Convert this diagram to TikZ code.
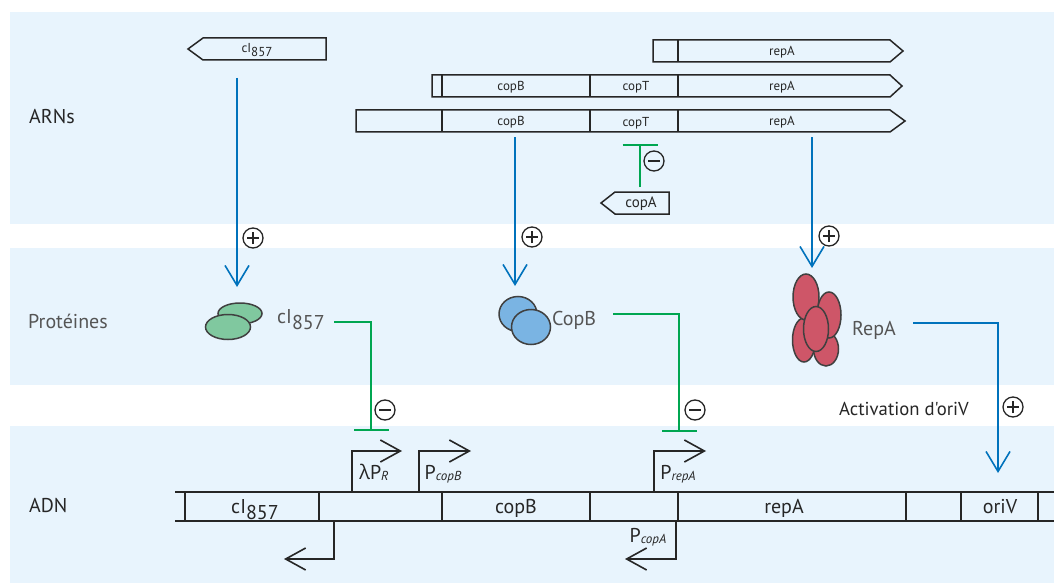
\documentclass[tikz,border=0pt]{standalone}
\usepackage{fontspec}
\setmainfont{PT Sans}
\newfontfamily\plainfont{PT Sans}
\newfontfamily\grkfont{Open Sans}
\usetikzlibrary{arrows.meta}

\definecolor{bandfill}{HTML}{E8F4FD}
\definecolor{actblue}{HTML}{0072BC}
\definecolor{inhgreen}{HTML}{00A651}
\definecolor{ink}{HTML}{262626}
\definecolor{greyink}{HTML}{555555}
\definecolor{outline}{HTML}{404040}
\definecolor{cIfill}{HTML}{80C89F}
\definecolor{copBfill}{HTML}{7AB4E3}
\definecolor{repAfill}{HTML}{CE5668}

% gene name with lowered allele number
\newcommand\cIsub{cI\raisebox{-0.3em}{857}}
% promoter name with small italic index
\newcommand\promlab[2]{#1\raisebox{-0.08em}{\fontsize{13}{13}\selectfont\itshape #2}}

\tikzset{
  band/.style={fill=bandfill},
  rnabox/.style={draw=ink,line width=1.5pt,line join=miter},
  dna/.style={draw=ink,line width=2pt},
  act/.style={draw=actblue,line width=1.6pt,
    -{Straight Barb[length=20pt,width=24pt,line width=1.6pt]}},
  inh/.style={draw=inhgreen,line width=2pt,-{Bar[width=35pt,line width=2pt]}},
  prom/.style={draw=ink,line width=1.6pt,line join=miter,
    -{Straight Barb[length=20pt,width=22pt,line width=1.6pt]}},
  prot/.style={draw=outline,line width=1.5pt},
  lab/.style={font=\fontsize{20}{24}\selectfont,inner sep=0pt,text=ink},
  plab/.style={font=\fontsize{20}{24}\selectfont,inner sep=0pt,text=greyink},
  rnalab/.style={font=\fontsize{13}{15}\selectfont,inner sep=0pt,text=ink,anchor=base},
  sym/.style={circle,draw=ink,line width=1.3pt,minimum size=20pt,inner sep=0pt},
  plussym/.style={sym,path picture={
      \draw[ink,line width=1.3pt] ([xshift=-6pt]path picture bounding box.center) -- ([xshift=6pt]path picture bounding box.center);
      \draw[ink,line width=1.3pt] ([yshift=-6pt]path picture bounding box.center) -- ([yshift=6pt]path picture bounding box.center);}},
  minussym/.style={sym,path picture={
      \draw[ink,line width=1.6pt] ([xshift=-6pt]path picture bounding box.center) -- ([xshift=6pt]path picture bounding box.center);}},
}

\begin{document}
\begin{tikzpicture}[x=1pt,y=-1pt]
\fill[white] (0,0) rectangle (1054,583);
\useasboundingbox (0,0) rectangle (1054,583);

% three layers
\fill[band] (10,12) rectangle (1054,224);
\fill[band] (10,248) rectangle (1054,385);
\fill[band] (10,426) rectangle (1054,583);

\node[lab,anchor=base west] (lARN) at (29,124) {ARNs};
\node[plab,anchor=base west] (lProt) at (28,328) {Protéines};
\node[lab,anchor=base west] (lADN) at (29,512) {ADN};

% ---------- RNAs ----------
% cI857 transcript (leftward)
\draw[rnabox] (326,38) -- (203,38) -- (188,49) -- (203,60) -- (326,60) -- cycle;
\node[rnalab] (rcI) at (257,53) {\cIsub};

% repA transcript
\draw[rnabox] (653,40) -- (890,40) -- (903,51) -- (890,62) -- (653,62) -- cycle;
\draw[rnabox] (678,40) -- (678,62);
\node[rnalab] (r1A) at (782,55.5) {repA};

% copB-copT-repA transcript (short leader)
\draw[rnabox] (432,75) -- (890,75) -- (902,86) -- (890,97) -- (432,97) -- cycle;
\foreach \x in {442,590,678} \draw[rnabox] (\x,75) -- (\x,97);
\node[rnalab] (r2B) at (511,90.5) {copB};
\node[rnalab] (r2T) at (636,90.5) {copT};
\node[rnalab] (r2A) at (782,90.5) {repA};

% copB-copT-repA transcript (long leader)
\draw[rnabox] (356,110) -- (890,110) -- (905,121) -- (890,132) -- (356,132) -- cycle;
\foreach \x in {442,590,678} \draw[rnabox] (\x,110) -- (\x,132);
\node[rnalab] (r3B) at (511,125) {copB};
\node[rnalab] (r3T) at (636,127) {copT};
\node[rnalab] (r3A) at (782,125.5) {repA};

% antisense copA
\draw[rnabox] (669,192) -- (615,192) -- (601,203) -- (615,214) -- (669,214) -- cycle;
\node[rnalab,font=\fontsize{15}{17}\selectfont] (rcopA) at (641,207.5) {copA};

% ---------- proteins ----------
\draw[prot,fill=cIfill] (240,313.5) ellipse [x radius=22,y radius=10.5];
\draw[prot,fill=cIfill] (228,327) ellipse [x radius=22.5,y radius=12.5];
\node[plab,anchor=base west] (pcI) at (277,323) {\cIsub};

\draw[prot,fill=copBfill] (518,314) ellipse [x radius=19,y radius=17.5];
\draw[prot,fill=copBfill] (531,327) ellipse [x radius=19.5,y radius=17.5];
\node[plab,anchor=base west] (pcopB) at (552,325) {CopB};

\draw[prot,fill=repAfill] (804,340) ellipse [x radius=11.5,y radius=22];
\draw[prot,fill=repAfill] (826,349) ellipse [x radius=12.5,y radius=17];
\draw[prot,fill=repAfill] (829,315) ellipse [x radius=12,y radius=23];
\draw[prot,fill=repAfill] (806,297) ellipse [x radius=13,y radius=23];
\draw[prot,fill=repAfill] (816,329) ellipse [x radius=12.5,y radius=22.5];
\node[plab,anchor=base west] (prepA) at (852,335) {RepA};

% ---------- DNA ----------
\draw[dna] (175,492) -- (1054,492);
\draw[dna] (175,521) -- (1054,521);
\foreach \x in {185,319,442,590,678,906,961,1038} \draw[dna] (\x,492) -- (\x,521);
\node[lab,anchor=base] (dcI) at (255,513) {\cIsub};
\node[lab,anchor=base] (dcopB) at (516,513) {copB};
\node[lab,anchor=base] (drepA) at (784,513) {repA};
\node[lab,anchor=base] (doriV) at (1000,513) {oriV};

% promoters
\coordinate (PRs) at (352,492);  \coordinate (PRe) at (402,451);
\coordinate (PBs) at (419,492);  \coordinate (PBe) at (471,451);
\coordinate (PAs) at (654,492);  \coordinate (PAe) at (706,451);
\coordinate (PLs) at (334,521);  \coordinate (PLe) at (284,559);
\coordinate (PCs) at (676,521);  \coordinate (PCe) at (625,559);
\draw[prom] (PRs) |- (PRe);
\draw[prom] (PBs) |- (PBe);
\draw[prom] (PAs) |- (PAe);
\draw[prom] (PLs) |- (PLe);
\draw[prom] (PCs) |- (PCe);
\node[lab,anchor=base] (tPR) at (374,479) {{\grkfont λ}\promlab{P}{R}};
\node[lab,anchor=base] (tPB) at (443,479) {\promlab{P}{copB}};
\node[lab,anchor=base] (tPA) at (678,479) {\promlab{P}{repA}};
\node[lab,anchor=base] (tPC) at (648,542) {\promlab{P}{copA}};

% ---------- regulation ----------
\coordinate (cIrna) at (237,78);   \coordinate (cIprot) at (237,287);
\coordinate (copBrna) at (515,137); \coordinate (copBprot) at (515,286);
\coordinate (repArna) at (812,137); \coordinate (repAprot) at (812,268);
\draw[act] (cIrna) -- (cIprot);
\draw[act] (copBrna) -- (copBprot);
\draw[act] (repArna) -- (repAprot);
\node[plussym] (s1) at (253,238) {};
\node[plussym] (s2) at (532,237) {};
\node[plussym] (s3) at (829,236) {};

\coordinate (repAout) at (913,323); \coordinate (oriVin) at (998,473);
\draw[act] (repAout) -| (oriVin);
\node[lab,anchor=base west,font=\plainfont\fontsize{18.7}{22}\selectfont] (tact) at (839,415) {Activation d'oriV};
\node[plussym] (s4) at (1013,407) {};

\coordinate (copAtop) at (640,187); \coordinate (copTbar) at (640,144);
\draw[inh] (copAtop) -- (copTbar);
\node[minussym] (m1) at (654,161) {};

\coordinate (cIout) at (334,322); \coordinate (PRbar) at (371,431);
\draw[inh] (cIout) -| (PRbar);
\node[minussym] (m2) at (385,410) {};

\coordinate (copBout) at (613,314); \coordinate (PAbar) at (679,432);
\draw[inh] (copBout) -| (PAbar);
\node[minussym] (m3) at (695,410) {};
\end{tikzpicture}
\end{document}
